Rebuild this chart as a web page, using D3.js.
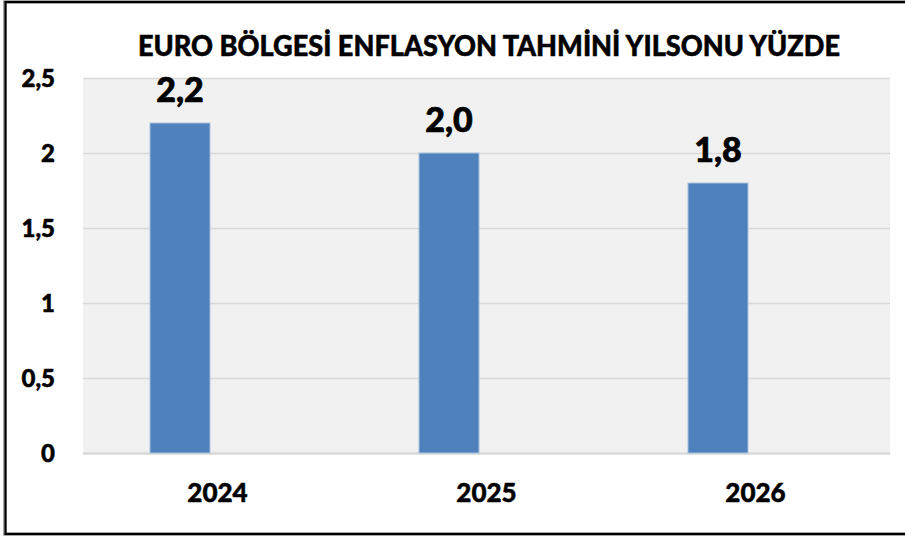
<!DOCTYPE html>
<html><head><meta charset="utf-8">
<script src="https://cdn.jsdelivr.net/npm/d3@7/dist/d3.min.js"></script>
<style>html,body{margin:0;padding:0;background:#fff;}svg{display:block;}</style>
</head><body>
<script>
const title = "EURO BÖLGESİ ENFLASYON TAHMİNİ YILSONU YÜZDE";
const categories = ["2024", "2025", "2026"];
const values = [2.2, 2.0, 1.8];
const valueLabels = ["2,2", "2,0", "1,8"];
const yTicks = [0, 0.5, 1, 1.5, 2, 2.5];
const yTickLabels = ["0", "0,5", "1", "1,5", "2", "2,5"];
const seriesSlots = ["tahmin", "bos"];

const W = 905, H = 536;
const plot = {left: 83, right: 890, top: 78, bottom: 453};
const FONT = "Lato, 'Open Sans', sans-serif";
const WEIGHT = 900;

const svg = d3.select("body").append("svg").attr("width", W).attr("height", H);

// outer frame (left, top, bottom)
svg.append("path").attr("d", `M${W+10},2 H5 V534 H${W+10}`)
  .attr("fill", "none").attr("stroke", "#8a8a8a").attr("stroke-width", 3.5);
svg.append("path").attr("d", `M${W+10},2 H5.5 V534 H${W+10}`)
  .attr("fill", "none").attr("stroke", "#000").attr("stroke-width", 2);

const y = d3.scaleLinear().domain([0, 2.5]).range([plot.bottom, plot.top]);
const x0 = d3.scaleBand().domain(categories).range([plot.left, plot.right]).paddingInner(0).paddingOuter(0);
const x1 = d3.scaleBand().domain(seriesSlots).range([0, x0.bandwidth()]).paddingInner(0.2).paddingOuter(0.893);

// plot background
svg.append("rect").attr("x", plot.left).attr("y", plot.top)
  .attr("width", plot.right - plot.left).attr("height", plot.bottom - plot.top)
  .attr("fill", "#f1f1f1");

// gridlines
const grid = svg.append("g").attr("transform", `translate(${plot.left},0)`)
  .call(d3.axisLeft(y).tickValues(yTicks).tickSize(-(plot.right - plot.left)).tickFormat(""));
grid.select(".domain").remove();
grid.selectAll(".tick line").attr("stroke", "#d9d9d9").attr("stroke-width", d => d === 0 ? 2.5 : 1.5);

function heavy(sel, w) {
  sel.attr("stroke", "#000").attr("stroke-width", w).attr("stroke-linejoin", "round");
}

// y tick labels
const yAxis = svg.append("g").attr("transform", `translate(55,0)`)
  .call(d3.axisLeft(y).tickValues(yTicks).tickSize(0).tickPadding(0).tickFormat((d, i) => yTickLabels[i]));
yAxis.select(".domain").remove();
yAxis.selectAll("text").attr("font-family", FONT).attr("font-weight", WEIGHT)
  .attr("font-size", 24).attr("fill", "#000").attr("dy", "0.35em").call(heavy, 0.5);

// bars
svg.append("g").selectAll("rect").data(categories).join("rect")
  .attr("x", (d) => x0(d) + x1("tahmin"))
  .attr("width", x1.bandwidth())
  .attr("y", (d, i) => y(values[i]))
  .attr("height", (d, i) => y(0) - y(values[i]))
  .attr("fill", "#4f81bd")
  .attr("stroke", "#a9c1de").attr("stroke-width", 1);

// value labels
svg.append("g").selectAll("text").data(categories).join("text")
  .attr("x", d => x0(d) + x1("tahmin") + x1.bandwidth() / 2)
  .attr("y", (d, i) => y(values[i]) - 21)
  .attr("text-anchor", "middle")
  .attr("font-family", FONT).attr("font-weight", WEIGHT).attr("font-size", 34)
  .attr("fill", "#000").call(heavy, 0.7)
  .text((d, i) => valueLabels[i]);

// x axis labels
const xAxis = svg.append("g").attr("transform", `translate(0,${plot.bottom})`)
  .call(d3.axisBottom(x0).tickSize(0).tickPadding(0));
xAxis.select(".domain").remove();
xAxis.selectAll("text").attr("font-family", FONT).attr("font-weight", WEIGHT)
  .attr("font-size", 26).attr("fill", "#000").attr("dy", "0").attr("y", 49).call(heavy, 0.5);

// title
svg.append("text").attr("x", 489).attr("y", 56).attr("text-anchor", "middle")
  .attr("font-family", FONT).attr("font-weight", WEIGHT).attr("font-size", 28)
  .attr("textLength", 702).attr("lengthAdjust", "spacingAndGlyphs")
  .attr("fill", "#000").call(heavy, 0.5).text(title);
</script>
</body></html>
